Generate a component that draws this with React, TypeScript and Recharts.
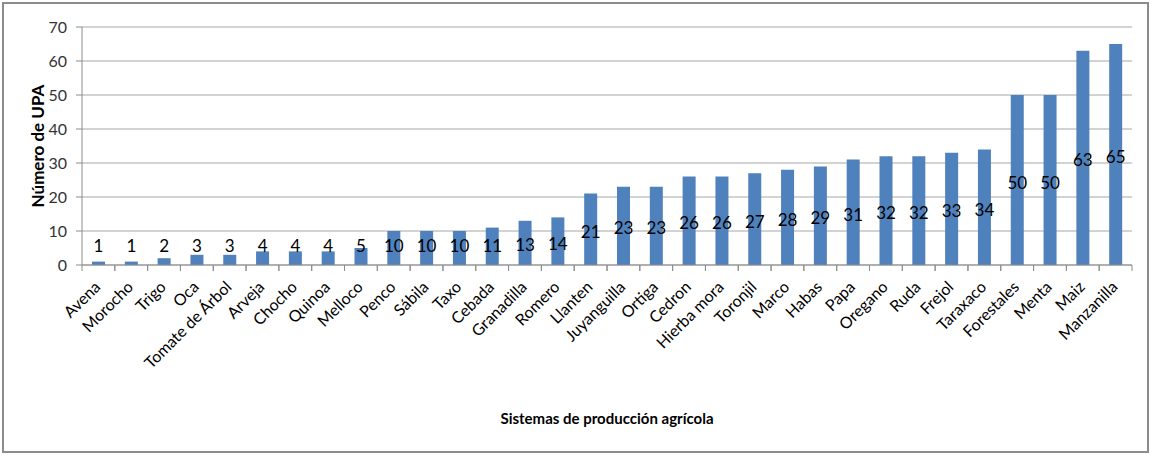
import { Bar, BarChart, CartesianGrid, Label, LabelList, XAxis, YAxis } from 'recharts';

const categorias = [
  'Avena', 'Morocho', 'Trigo', 'Oca', 'Tomate de Árbol', 'Arveja', 'Chocho', 'Quinoa',
  'Melloco', 'Penco', 'Sábila', 'Taxo', 'Cebada', 'Granadilla', 'Romero', 'Llanten',
  'Juyanguilla', 'Ortiga', 'Cedron', 'Hierba mora', 'Toronjil', 'Marco', 'Habas', 'Papa',
  'Oregano', 'Ruda', 'Frejol', 'Taraxaco', 'Forestales', 'Menta', 'Maiz', 'Manzanilla',
];
const upa = [1, 1, 2, 3, 3, 4, 4, 4, 5, 10, 10, 10, 11, 13, 14, 21, 23, 23, 26, 26, 27, 28, 29, 31, 32, 32, 33, 34, 50, 50, 63, 65];
const yTicks = [0, 10, 20, 30, 40, 50, 60, 70];

const data = categorias.map((nombre, i) => ({ nombre, upa: upa[i] }));

const W = 1151;
const H = 455;
const M = { top: 27, right: 19, left: 0, bottom: 70 };
const Y_W = 82;
const STEP = (W - M.left - M.right - Y_W) / categorias.length;
const FONT = 'Lato, "Open Sans", sans-serif';
const GRIS = '#8c8c8c';

const CategoriaTick = (props: any) => {
  const { x, y, payload } = props;
  return (
    <g>
      <line x1={x - STEP / 2} x2={x - STEP / 2} y1={y} y2={y + 6} stroke={GRIS} />
      <line x1={x + STEP / 2} x2={x + STEP / 2} y1={y} y2={y + 6} stroke={GRIS} />
      <text
        x={x + 3}
        y={y + 23}
        transform={`rotate(-45, ${x + 3}, ${y + 23})`}
        textAnchor="end"
        fontSize={16}
        fill="#000"
        fontFamily={FONT}
      >
        {payload.value}
      </text>
    </g>
  );
};

const ValorLabel = (props: any) => {
  const { x, y, width, height, value } = props;
  const cy = Math.min(y + height / 2 + 2, y + height - 20);
  return (
    <text x={x + width / 2} y={cy} textAnchor="middle" dominantBaseline="central" fontSize={17} fill="#000" fontFamily={FONT}>
      {value}
    </text>
  );
};

const TituloX = (props: any) => {
  const vb = props.viewBox;
  return (
    <text x={vb.x + vb.width / 2} y={vb.y + 153} textAnchor="middle" dominantBaseline="central" fontSize={15} fontWeight="bold" fill="#000" fontFamily={FONT}>
      Sistemas de producción agrícola
    </text>
  );
};

const TituloY = (props: any) => {
  const vb = props.viewBox;
  const cx = vb.x + 37;
  const cy = vb.y + vb.height / 2;
  return (
    <text x={cx} y={cy} transform={`rotate(-90, ${cx}, ${cy})`} textAnchor="middle" dominantBaseline="central" fontSize={17} fontWeight="bold" fill="#000" fontFamily={FONT}>
      Número de UPA
    </text>
  );
};

export default function App() {
  return (
    <div style={{ position: 'relative', width: W, height: H, background: '#fff' }}>
      <style>{'body{margin:0}'}</style>
      <BarChart width={W} height={H} data={data} margin={M}>
        <CartesianGrid vertical={false} stroke="#a6a6a6" />
        <XAxis
          dataKey="nombre"
          interval={0}
          height={120}
          tick={<CategoriaTick />}
          tickLine={false}
          tickSize={0}
          tickMargin={0}
          axisLine={{ stroke: GRIS }}
        >
          <Label content={<TituloX />} />
        </XAxis>
        <YAxis
          width={Y_W}
          domain={[0, 70]}
          ticks={yTicks}
          interval={0}
          tickSize={6}
          tickMargin={9}
          tickLine={{ stroke: GRIS }}
          axisLine={{ stroke: GRIS }}
          tick={{ fontSize: 16, fill: '#333', fontFamily: FONT }}
        >
          <Label content={<TituloY />} />
        </YAxis>
        <Bar dataKey="upa" fill="#4f81bd" barSize={13} isAnimationActive={false}>
          <LabelList dataKey="upa" content={<ValorLabel />} />
        </Bar>
      </BarChart>
      <div
        style={{
          position: 'absolute',
          left: 2,
          top: 2,
          width: 1147,
          height: 451,
          boxSizing: 'border-box',
          border: `2px solid ${GRIS}`,
          pointerEvents: 'none',
        }}
      />
    </div>
  );
}
